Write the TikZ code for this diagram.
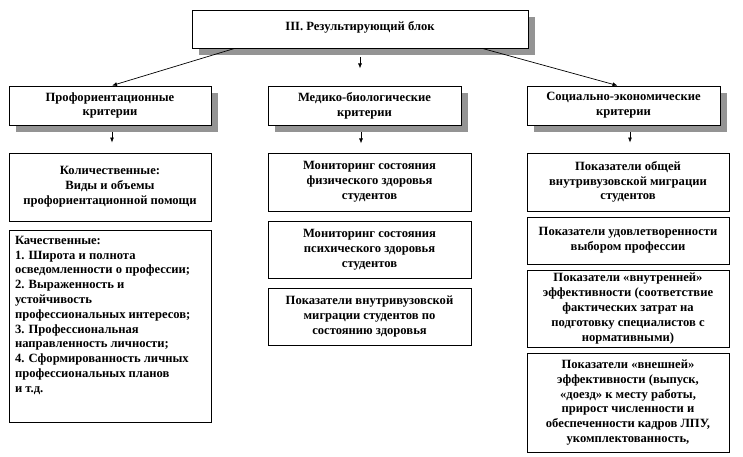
\documentclass[tikz,border=0pt]{standalone}
\usepackage{fontspec}
\setmainfont{Liberation Serif}
\usetikzlibrary{arrows.meta,shadows}
\begin{document}
\begin{tikzpicture}[x=1pt,y=-1pt,
  box/.style={draw,line width=0.9pt,fill=white,align=center,inner sep=3pt,
    font=\fontsize{12.6}{14.8}\selectfont\bfseries},
  shbox/.style={box,drop shadow={shadow xshift=7pt,shadow yshift=-7pt,fill=black!42,opacity=1}},
  arr/.style={-{Latex[length=5pt,width=4pt]},line width=0.7pt}]
\useasboundingbox (0,0) rectangle (743,456);
% upper levels
\node[shbox,minimum width=336pt,minimum height=38pt,text height=9pt,text depth=7pt] (top) at (360,29) {III. Результирующий блок};
\node[shbox,minimum width=202pt,minimum height=39pt] (prof) at (110,105.5) {Профориентационные\\критерии};
\node[shbox,minimum width=193pt,minimum height=39pt] (med) at (364.5,105.5) {Медико-биологические\\критерии};
\node[shbox,minimum width=193pt,minimum height=39pt] (soc) at (623.5,105.5) {Социально-экономические\\критерии};
% left column
\node[box,minimum width=202pt,minimum height=68pt] (kol) at (110,187) {Количественные:\\Виды и объемы\\профориентационной помощи};
\node[box,minimum width=202pt,minimum height=192pt,inner sep=0pt] (kach) at (110,326) {\parbox[c][192pt][t]{190pt}{\raggedright\vspace{6pt}
Качественные:\\
1. Широта и полнота\\
осведомленности о профессии;\\
2. Выраженность и\\
устойчивость\\
профессиональных интересов;\\
3. Профессиональная\\
направленность личности;\\
4. Сформированность личных\\
профессиональных планов\\
и т.д.}};
% middle column
\node[box,minimum width=203pt,minimum height=58pt] (mon1) at (369.5,182) {Мониторинг состояния\\физического здоровья\\студентов};
\node[box,minimum width=203pt,minimum height=57pt] (mon2) at (369.5,249.5) {Мониторинг состояния\\психического здоровья\\студентов};
\node[box,minimum width=203pt,minimum height=57pt] (migr) at (369.5,316.5) {Показатели внутривузовской\\миграции студентов по\\состоянию здоровья};
% right column
\node[box,minimum width=202pt,minimum height=58pt] (pok1) at (628,182) {Показатели общей\\внутривузовской миграции\\студентов};
\node[box,minimum width=202pt,minimum height=47pt] (pok2) at (628,240.5) {Показатели удовлетворенности\\выбором профессии};
\node[box,minimum width=202pt,minimum height=77pt] (pok3) at (628,308.5) {Показатели «внутренней»\\эффективности (соответствие\\фактических затрат на\\подготовку специалистов с\\нормативными)};
\node[box,minimum width=202pt,minimum height=99pt] (pok4) at (628,402.5) {Показатели «внешней»\\эффективности (выпуск,\\«доезд» к месту работы,\\прирост численности и\\обеспеченности кадров ЛПУ,\\укомплектованность,};
% arrows
\draw[arr] ([xshift=43pt]top.south west) -- ([xshift=2pt]prof.north);
\draw[arr] ([xshift=-46pt]top.south east) -- ([xshift=-6pt]soc.north);
\draw[arr] ([yshift=-9pt]top.south) -- ([yshift=-20pt]top.south);
\draw[arr] ([xshift=2pt,yshift=-7pt]prof.south) -- ([xshift=2pt,yshift=10pt]kol.north);
\draw[arr] ([xshift=-3.5pt,yshift=-7pt]med.south) -- ([xshift=-3.5pt,yshift=-18pt]med.south);
\draw[arr] ([xshift=6.5pt,yshift=-7pt]soc.south) -- ([xshift=2pt,yshift=10pt]pok1.north);
\end{tikzpicture}
\end{document}
